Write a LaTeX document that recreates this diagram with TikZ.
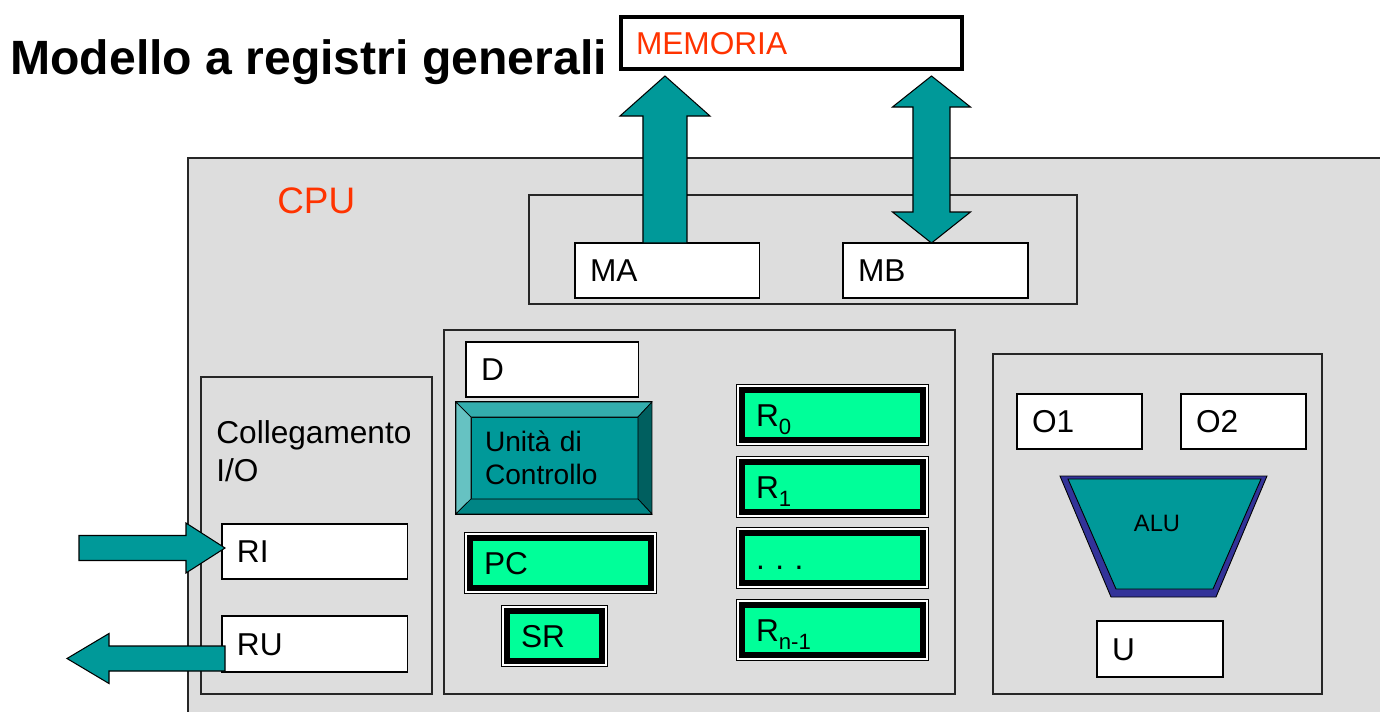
\documentclass[tikz,border=0pt]{standalone}
\usepackage{fontspec}
\setmainfont{Liberation Sans}
\usepackage{tikz}
\usetikzlibrary{calc}
\usepackage{xcolor}

\definecolor{cpugray}{HTML}{DDDDDD}
\definecolor{memred}{HTML}{FF3300}
\definecolor{busteal}{HTML}{009999}
\definecolor{regreen}{HTML}{00FF99}
\definecolor{alunavy}{HTML}{333399}
\definecolor{cutop}{HTML}{33ADAD}
\definecolor{culeft}{HTML}{66C2C2}
\definecolor{curight}{HTML}{005F5F}
\definecolor{cubottom}{HTML}{008585}

\newcommand{\regsub}[1]{\raisebox{-4.4pt}{\fontsize{12.6}{14}\selectfont #1}}

\begin{document}
\begin{tikzpicture}[x=0.02cm,y=-0.02cm,font=\fontsize{18}{21.6}\selectfont,
  grpbox/.style={draw=black!85,line width=0.6pt},
  whitebox/.style={draw,line width=0.6pt,fill=white,anchor=north west,outer sep=0pt,align=left,
    inner xsep=0.3cm,inner ysep=0pt,text height=12.9pt,text depth=0pt,minimum height=1.1cm,text width=#1},
  regbox/.style={draw=black,line width=3pt,fill=regreen,anchor=north west,outer sep=0pt,align=left,
    inner xsep=0.28cm,inner ysep=0pt,text height=12.9pt,text depth=0pt,minimum height=1.0cm,text width=#1,
    preaction={draw=black,line width=6.8pt},preaction={draw=white,line width=5.3pt}},
  busarrow/.style={draw,line width=0.6pt,fill=busteal}]

\useasboundingbox (0,0) rectangle (1380,711);
\clip (0,0) rectangle (1380,711);

% Title and memory
\node[anchor=base west,inner sep=0pt,font=\bfseries\fontsize{27.4}{32}\selectfont] (title) at (10,74) {Modello a registri generali};
\node[whitebox=6.22cm,line width=2.3pt,minimum height=1.04cm,text=memred] (mem) at (621,17) {MEMORIA};

% CPU
\draw[grpbox,fill=cpugray] (188,158) rectangle (1400,730);
\node[anchor=west,inner sep=0pt,text=memred,font=\fontsize{21}{25}\selectfont] (cpu) at (277,200.5) {CPU};

% MA / MB
\draw[grpbox] (529,195) rectangle (1077,304);
\node[whitebox=3.1cm] (ma) at (575,243) {MA};
\node[whitebox=3.1cm] (mb) at (843,243) {MB};

% registers and control unit
\draw[grpbox] (444,330) rectangle (955,694);
\node[whitebox=2.86cm] (d) at (466,342) {D};
\node[draw,line width=0.6pt,fill=busteal,anchor=north west,outer sep=0pt,minimum width=3.92cm,minimum height=2.24cm] (cuframe) at (456,402) {};
\node[draw,line width=0.4pt,fill=busteal,anchor=north west,outer sep=0pt,minimum width=3.34cm,minimum height=1.64cm,
  inner xsep=0.28cm,text width=2.78cm,align=left,font=\fontsize{16}{18.8}\selectfont] (cu) at (471,417) {Unità di\\Controllo};
\filldraw[line width=0.4pt,fill=cutop] (cuframe.north west) -- (cuframe.north east) -- (cu.north east) -- (cu.north west) -- cycle;
\filldraw[line width=0.4pt,fill=culeft] (cuframe.north west) -- (cu.north west) -- (cu.south west) -- (cuframe.south west) -- cycle;
\filldraw[line width=0.4pt,fill=curight] (cuframe.north east) -- (cu.north east) -- (cu.south east) -- (cuframe.south east) -- cycle;
\filldraw[line width=0.4pt,fill=cubottom] (cuframe.south west) -- (cu.south west) -- (cu.south east) -- (cuframe.south east) -- cycle;

\node[regbox=3.06cm] (pc) at (470,538) {PC};
\node[regbox=1.34cm] (sr) at (507,611) {SR};
\node[regbox=3.06cm] (r0) at (742,390) {R\regsub{0}};
\node[regbox=3.06cm] (r1) at (742,462) {R\regsub{1}};
\node[regbox=3.06cm] (rdots) at (742,533) {.\ .\ .};
\node[regbox=3.06cm] (rn) at (742,605) {R\regsub{n-1}};

% I/O
\draw[grpbox] (201,377) rectangle (432,694);
\node[anchor=west,inner sep=0pt,align=left] (io) at (216,451) {Collegamento\\I/O};
\node[whitebox=3.12cm] (ri) at (222,524) {RI};
\node[whitebox=3.12cm,minimum height=1.12cm] (ru) at (222,616) {RU};

% ALU
\draw[grpbox] (993,354) rectangle (1322,694);
\node[whitebox=1.9cm] (o1) at (1017,394) {O1};
\node[whitebox=1.9cm] (o2) at (1181,394) {O2};
\filldraw[line width=0.5pt,fill=alunavy] (1060,476) -- (1267,476) -- (1216,597) -- (1111,597) -- cycle;
\filldraw[line width=0.5pt,fill=busteal] (1068,479) -- (1261,479) -- (1213,589) -- (1116,589) -- cycle;
\node[font=\fontsize{13.5}{16}\selectfont] (alu) at (1157,523) {ALU};
\node[whitebox=1.92cm,minimum height=1.12cm] (u) at (1097,621) {U};

% bus arrows
\coordinate (maTip) at ($(ma.north)+(-2.5,-167)$);
\draw[busarrow] (maTip) -- ++(45,40) -- ++(-23,0) -- ++(0,127) -- ++(-44,0) -- ++(0,-127) -- ++(-23,0) -- cycle;
\coordinate (mbTip) at ($(mb.north)+(-4,0)$);
\draw[busarrow] (mbTip) -- ++(39,-31) -- ++(-20.5,0) -- ++(0,-105) -- ++(20.5,0) -- ++(-39,-31)
  -- ++(-39,31) -- ++(20.5,0) -- ++(0,105) -- ++(-20.5,0) -- cycle;
\coordinate (riTip) at ($(ri.west)+(3,-3.5)$);
\draw[busarrow] (riTip) -- ++(-39,-25) -- ++(0,12.5) -- ++(-107,0) -- ++(0,25) -- ++(107,0) -- ++(0,12.5) -- cycle;
\coordinate (ruEnd) at ($(ru.west)+(3,14.5)$);
\draw[busarrow] (ruEnd) ++(0,-12.5) -- ++(-116,0) -- ++(0,-12.5) -- ++(-42,25) -- ++(42,25) -- ++(0,-12.5) -- ++(116,0) -- cycle;

\end{tikzpicture}
\end{document}
